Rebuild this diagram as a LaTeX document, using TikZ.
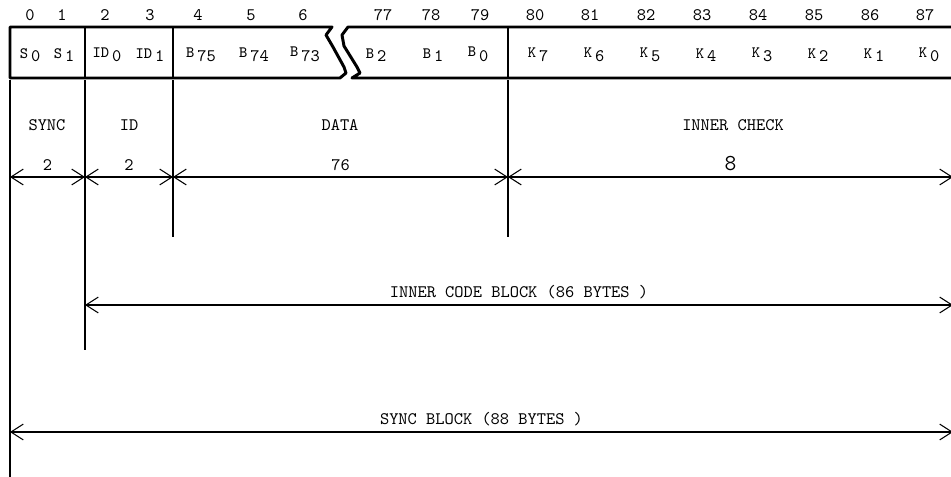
\documentclass[tikz,border=0pt]{standalone}
\usepackage{fontspec}
\usetikzlibrary{arrows.meta}
\newcommand{\lo}[2]{{\small #1}\,\raisebox{-2pt}{#2}}
\newcommand{\hi}[2]{\raisebox{2pt}{\small #1}\,\raisebox{-1pt}{#2}}
\begin{document}
\begin{tikzpicture}[x=0.02cm,y=-0.02cm,>={Straight Barb[length=7pt,width=9pt]},line join=round,font=\ttfamily\fontsize{10}{11}\selectfont]
	\tikzset{box/.style={line width=1.7pt},thin line/.style={line width=0.6pt},dim/.style={line width=0.6pt,<->}}
	\useasboundingbox (0,0) rectangle (951,477);
	% boxes
	\draw[box] (10,27)--(332,27)--(326,35)--(333,47)--(344,67)--(346,73)--(340,78)--(10,78)--cycle;
	\draw[box] (956,27)--(348,27)--(342,35)--(344,46)--(357,67)--(360,73)--(352,78)--(956,78);
	\draw[box] (85,27)--(85,78);
	\draw[box] (173,27)--(173,78);
	\draw[box] (508,27)--(508,78);
	% byte numbers
	\foreach \x/\t in {30/0,62/1,105/2,150/3,198/4,251/5,303/6,383/77,431/78,480/79,535/80,590/81,646/82,702/83,758/84,814/85,870/86,925/87}
		\node (n\t) at (\x,15) {\t};
	% cells
	\node (s0) at (30,55) {\lo{S}{0}};
	\node (s1) at (64,55) {\lo{S}{1}};
	\node (id0) at (107,55) {\lo{ID}{0}};
	\node (id1) at (150,55) {\lo{ID}{1}};
	\node (b75) at (201,55) {\lo{B}{75}};
	\node (b74) at (254,55) {\lo{B}{74}};
	\node (b73) at (305,54) {\hi{B}{73}};
	\node (b2) at (376,55) {\lo{B}{2}};
	\node (b1) at (433,55) {\lo{B}{1}};
	\node (b0) at (478,54) {\hi{B}{0}};
	\foreach \x/\t in {538/7,594/6,650/5,706/4,762/3,818/2,874/1,929/0}
		\node (k\t) at (\x,55) {\lo{K}{\t}};
	% dividers
	\coordinate (a0) at (10,80);
	\coordinate (a1) at (85,80);
	\coordinate (a2) at (173,80);
	\coordinate (a3) at (508,80);
	\draw[thin line] (a0)--(10,477);
	\draw[thin line] (a1)--(85,350);
	\draw[thin line] (a2)--(173,237);
	\draw[thin line] (a3)--(508,237);
	% fields
	\node (sync) at (47,125) {SYNC};
	\node (id) at (129,125) {ID};
	\node (data) at (340,125) {DATA};
	\node (check) at (733,125) {INNER CHECK};
	% lengths
	\coordinate (d0) at (10,177);
	\coordinate (d1) at (85,177);
	\coordinate (d2) at (173,177);
	\coordinate (d3) at (508,177);
	\coordinate (d4) at (953,177);
	\draw[dim] (d0)--(d1) node[midway,above] (l0) {2};
	\draw[dim] (d1)--(d2) node[midway,above] (l1) {2};
	\draw[dim] (d2)--(d3) node[midway,above] (l2) {76};
	\draw[dim] (d3)--(d4) node[midway,above,font=\ttfamily\fontsize{13}{13}\selectfont] (l3) {8};
	\coordinate (e0) at (85,305);
	\coordinate (e1) at (953,305);
	\draw[dim] (e0)--(e1) node[midway,above] (inner) {INNER CODE BLOCK (86 BYTES )};
	\coordinate (f0) at (10,432);
	\coordinate (f1) at (953,432);
	\draw[dim] (f0)--(f1) node[midway,above] (block) {SYNC BLOCK (88 BYTES )};
\end{tikzpicture}
\end{document}
